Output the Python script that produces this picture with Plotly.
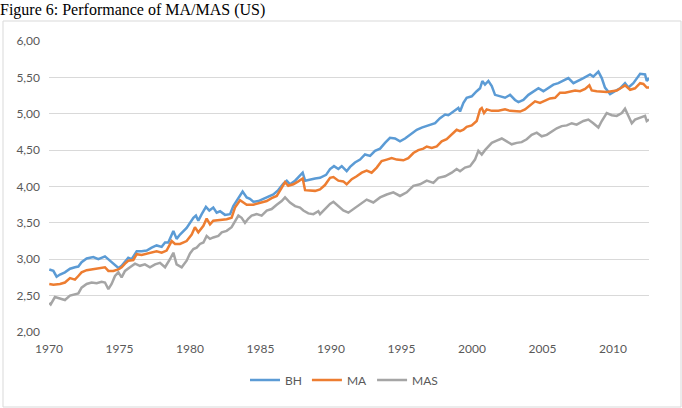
import plotly.graph_objects as go

# ---- data ----
bh_x = [1970.02, 1970.31, 1970.54, 1970.78, 1971.13, 1971.49, 1971.84, 1972.08, 1972.31, 1972.67,
        1973.14, 1973.50, 1973.97, 1974.21, 1974.44, 1974.68, 1974.92, 1975.15, 1975.39, 1975.62,
        1975.86, 1976.22, 1976.57, 1976.93, 1977.28, 1977.63, 1977.99, 1978.23, 1978.46, 1978.82,
        1979.05, 1979.29, 1979.76, 1980.24, 1980.42, 1980.59, 1980.83, 1981.13, 1981.37, 1981.65,
        1981.89, 1982.13, 1982.48, 1982.84, 1983.07, 1983.43, 1983.73, 1984.02, 1984.25, 1984.49,
        1984.85, 1985.20, 1985.56, 1985.91, 1986.26, 1986.62, 1986.86, 1987.09, 1987.45, 1987.68,
        1987.99, 1988.16, 1988.51, 1988.87, 1989.22, 1989.65, 1989.93, 1990.21, 1990.52, 1990.76,
        1991.11, 1991.35, 1991.70, 1992.06, 1992.41, 1992.77, 1993.12, 1993.48, 1993.83, 1994.18,
        1994.54, 1994.89, 1995.25, 1995.60, 1996.08, 1996.43, 1996.79, 1997.02, 1997.38, 1997.73,
        1998.09, 1998.32, 1998.68, 1999.03, 1999.15, 1999.39, 1999.62, 1999.98, 2000.33, 2000.57,
        2000.73, 2000.92, 2001.16, 2001.40, 2001.63, 2001.99, 2002.34, 2002.70, 2003.05, 2003.29,
        2003.64, 2004.00, 2004.35, 2004.71, 2005.06, 2005.41, 2005.77, 2006.12, 2006.48, 2006.83,
        2007.19, 2007.54, 2007.90, 2008.37, 2008.60, 2008.96, 2009.20, 2009.43, 2009.79, 2010.14,
        2010.50, 2010.85, 2011.09, 2011.44, 2011.68, 2011.92, 2012.27, 2012.39, 2012.55]
bh_y = [2.86, 2.84, 2.76, 2.79, 2.82, 2.87, 2.89, 2.90, 2.96, 3.01,
        3.03, 3.00, 3.04, 3.00, 2.96, 2.91, 2.88, 2.91, 2.96, 3.02,
        3.00, 3.11, 3.11, 3.12, 3.16, 3.19, 3.17, 3.23, 3.23, 3.39,
        3.28, 3.34, 3.43, 3.57, 3.60, 3.53, 3.62, 3.72, 3.67, 3.71,
        3.64, 3.66, 3.61, 3.62, 3.73, 3.85, 3.93, 3.85, 3.83, 3.79,
        3.80, 3.83, 3.86, 3.89, 3.95, 4.04, 4.08, 4.03, 4.08, 4.13,
        4.19, 4.08, 4.10, 4.11, 4.12, 4.16, 4.24, 4.28, 4.24, 4.28,
        4.21, 4.27, 4.33, 4.37, 4.44, 4.42, 4.49, 4.52, 4.60, 4.67,
        4.66, 4.62, 4.66, 4.71, 4.78, 4.81, 4.83, 4.85, 4.87, 4.94,
        4.99, 4.98, 5.03, 5.08, 5.03, 5.15, 5.22, 5.24, 5.31, 5.35,
        5.45, 5.40, 5.45, 5.38, 5.26, 5.24, 5.22, 5.26, 5.19, 5.16,
        5.19, 5.26, 5.31, 5.35, 5.31, 5.35, 5.40, 5.42, 5.45, 5.49,
        5.42, 5.45, 5.49, 5.54, 5.51, 5.58, 5.49, 5.36, 5.27, 5.31,
        5.35, 5.42, 5.36, 5.42, 5.49, 5.55, 5.54, 5.45, 5.49]

ma_x = [1970.02, 1970.31, 1970.78, 1971.13, 1971.49, 1971.84, 1972.08, 1972.31, 1972.67, 1973.02,
        1973.38, 1973.73, 1973.97, 1974.21, 1974.56, 1974.92, 1975.15, 1975.39, 1975.62, 1975.98,
        1976.22, 1976.57, 1976.93, 1977.28, 1977.63, 1977.99, 1978.34, 1978.70, 1978.94, 1979.29,
        1979.76, 1980.12, 1980.35, 1980.59, 1980.95, 1981.18, 1981.42, 1981.65, 1982.13, 1982.60,
        1982.95, 1983.19, 1983.55, 1983.78, 1984.02, 1984.49, 1984.96, 1985.44, 1985.79, 1986.15,
        1986.50, 1986.74, 1986.97, 1987.33, 1987.68, 1987.99, 1988.16, 1988.51, 1988.87, 1989.22,
        1989.57, 1989.93, 1990.17, 1990.52, 1990.87, 1991.11, 1991.47, 1991.82, 1992.18, 1992.53,
        1992.88, 1993.24, 1993.59, 1993.95, 1994.30, 1994.66, 1995.13, 1995.48, 1995.84, 1996.19,
        1996.55, 1996.79, 1997.14, 1997.50, 1997.85, 1998.20, 1998.56, 1998.91, 1999.15, 1999.39,
        1999.62, 1999.98, 2000.33, 2000.57, 2000.69, 2000.85, 2001.04, 2001.40, 2001.87, 2002.34,
        2002.70, 2003.05, 2003.41, 2003.76, 2004.11, 2004.47, 2004.82, 2005.18, 2005.53, 2005.89,
        2006.24, 2006.60, 2006.95, 2007.31, 2007.66, 2008.02, 2008.32, 2008.49, 2008.84, 2009.20,
        2009.55, 2009.91, 2010.26, 2010.62, 2010.85, 2011.21, 2011.56, 2011.92, 2012.15, 2012.39,
        2012.55]
ma_y = [2.66, 2.65, 2.66, 2.68, 2.74, 2.72, 2.77, 2.82, 2.85, 2.86,
        2.88, 2.89, 2.89, 2.84, 2.84, 2.86, 2.89, 2.94, 2.98, 2.99,
        3.07, 3.06, 3.08, 3.09, 3.11, 3.09, 3.12, 3.25, 3.21, 3.21,
        3.25, 3.34, 3.44, 3.37, 3.46, 3.56, 3.48, 3.53, 3.54, 3.55,
        3.57, 3.71, 3.81, 3.78, 3.75, 3.75, 3.77, 3.80, 3.84, 3.87,
        3.98, 4.06, 4.01, 4.03, 4.07, 4.11, 3.95, 3.95, 3.94, 3.96,
        4.02, 4.12, 4.13, 4.08, 4.07, 4.03, 4.10, 4.14, 4.19, 4.22,
        4.19, 4.26, 4.35, 4.37, 4.39, 4.37, 4.36, 4.39, 4.46, 4.50,
        4.52, 4.55, 4.53, 4.55, 4.62, 4.65, 4.71, 4.78, 4.76, 4.78,
        4.82, 4.84, 4.90, 5.06, 5.08, 5.01, 5.06, 5.04, 5.04, 5.06,
        5.04, 5.03, 5.03, 5.06, 5.12, 5.17, 5.15, 5.18, 5.21, 5.22,
        5.29, 5.29, 5.31, 5.32, 5.31, 5.34, 5.39, 5.32, 5.31, 5.30,
        5.30, 5.31, 5.32, 5.36, 5.39, 5.33, 5.35, 5.42, 5.41, 5.36,
        5.36]

mas_x = [1970.02, 1970.12, 1970.42, 1970.78, 1971.13, 1971.49, 1971.84, 1972.08, 1972.31, 1972.67,
         1973.02, 1973.38, 1973.73, 1973.97, 1974.21, 1974.44, 1974.68, 1974.92, 1975.15, 1975.39,
         1975.74, 1976.10, 1976.45, 1976.80, 1977.16, 1977.52, 1977.87, 1978.23, 1978.58, 1978.82,
         1979.05, 1979.41, 1979.76, 1980.00, 1980.24, 1980.47, 1980.71, 1980.95, 1981.18, 1981.42,
         1981.65, 1982.01, 1982.25, 1982.60, 1982.95, 1983.19, 1983.43, 1983.66, 1983.90, 1984.14,
         1984.37, 1984.73, 1985.08, 1985.44, 1985.79, 1986.15, 1986.50, 1986.74, 1987.09, 1987.45,
         1987.80, 1988.04, 1988.39, 1988.75, 1989.10, 1989.22, 1989.57, 1989.93, 1990.17, 1990.52,
         1990.87, 1991.23, 1991.58, 1992.06, 1992.53, 1993.00, 1993.48, 1993.95, 1994.42, 1994.89,
         1995.37, 1995.84, 1996.31, 1996.79, 1997.26, 1997.61, 1998.09, 1998.56, 1998.91, 1999.15,
         1999.50, 1999.86, 2000.21, 2000.45, 2000.69, 2000.92, 2001.16, 2001.40, 2001.75, 2002.11,
         2002.46, 2002.81, 2003.17, 2003.52, 2003.88, 2004.23, 2004.59, 2004.94, 2005.30, 2005.65,
         2006.01, 2006.36, 2006.72, 2007.07, 2007.42, 2007.90, 2008.25, 2008.60, 2008.96, 2009.20,
         2009.55, 2009.91, 2010.26, 2010.62, 2010.85, 2011.09, 2011.33, 2011.56, 2011.92, 2012.27,
         2012.39, 2012.55]
mas_y = [2.40, 2.38, 2.48, 2.46, 2.44, 2.50, 2.52, 2.53, 2.61, 2.66,
         2.68, 2.67, 2.69, 2.68, 2.59, 2.66, 2.77, 2.82, 2.75, 2.84,
         2.89, 2.94, 2.91, 2.93, 2.89, 2.93, 2.95, 2.89, 3.00, 3.09,
         2.93, 2.89, 2.98, 3.08, 3.14, 3.16, 3.21, 3.23, 3.32, 3.28,
         3.30, 3.32, 3.37, 3.39, 3.44, 3.53, 3.60, 3.57, 3.50, 3.56,
         3.60, 3.62, 3.60, 3.67, 3.69, 3.75, 3.80, 3.85, 3.78, 3.73,
         3.71, 3.67, 3.63, 3.62, 3.66, 3.62, 3.69, 3.76, 3.79, 3.73,
         3.67, 3.64, 3.69, 3.76, 3.82, 3.78, 3.85, 3.89, 3.92, 3.87,
         3.92, 4.01, 4.03, 4.08, 4.05, 4.12, 4.14, 4.19, 4.24, 4.21,
         4.26, 4.28, 4.37, 4.49, 4.44, 4.50, 4.55, 4.60, 4.63, 4.66,
         4.62, 4.58, 4.60, 4.61, 4.65, 4.71, 4.74, 4.69, 4.71, 4.76,
         4.80, 4.83, 4.84, 4.87, 4.85, 4.90, 4.92, 4.87, 4.81, 4.90,
         5.01, 4.98, 4.97, 5.01, 5.07, 4.97, 4.87, 4.92, 4.94, 4.97,
         4.90, 4.92]

x_ticks = [1970, 1975, 1980, 1985, 1990, 1995, 2000, 2005, 2010]
y_ticks = [2.0, 2.5, 3.0, 3.5, 4.0, 4.5, 5.0, 5.5, 6.0]

series = [("BH", bh_x, bh_y, "#5B9BD5"),
          ("MA", ma_x, ma_y, "#ED7D31"),
          ("MAS", mas_x, mas_y, "#A5A5A5")]

fig = go.Figure()
for name, xs, ys, col in series:
    fig.add_trace(go.Scatter(x=xs, y=ys, name=name, mode="lines",
                             line=dict(color=col, width=2.5)))

W, H = 682, 408
ml, mr, mt, mb = 49, 33, 41, 76
pw, ph = W - ml - mr, H - mt - mb

def px_x(p):
    return (p - ml) / pw

def px_y(p):
    return (H - mb - p) / ph

fig.update_layout(
    width=W, height=H,
    margin=dict(l=ml, r=mr, t=mt, b=mb, pad=0),
    paper_bgcolor="white", plot_bgcolor="white",
    separators=", ",
    font=dict(family="Lato, Carlito, sans-serif", size=12, color="#595959"),
    title=dict(text="Figure 6: Performance of MA/MAS (US)",
               font=dict(family="Liberation Serif, Times New Roman, serif", size=16, color="black"),
               xref="container", yref="container", x=0.0, xanchor="left",
               y=1 - 9 / H, yanchor="middle", pad=dict(l=0, t=0, b=0, r=0)),
    xaxis=dict(range=[1970, 2012.55], tickvals=x_ticks, ticktext=[str(t) for t in x_ticks],
               showgrid=False, zeroline=False, showline=False, ticks="",
               ticklabelstandoff=8, fixedrange=True),
    yaxis=dict(range=[2, 6], tickvals=y_ticks, tickformat=".2f",
               showgrid=True, gridcolor="#D9D9D9", gridwidth=1, zeroline=False,
               showline=False, ticks="", ticklabelstandoff=8, fixedrange=True),
    legend=dict(orientation="h", x=px_x(344), xanchor="center", y=px_y(380), yanchor="middle",
                font=dict(size=12, color="#595959"), itemwidth=30, bgcolor="rgba(0,0,0,0)"),
    showlegend=True,
    shapes=[dict(type="rect", xref="paper", yref="paper",
                 x0=px_x(3), x1=px_x(681), y0=px_y(407), y1=px_y(21),
                 line=dict(color="#D9D9D9", width=1), fillcolor="rgba(0,0,0,0)", layer="below")],
)

fig.write_html("out.html")
